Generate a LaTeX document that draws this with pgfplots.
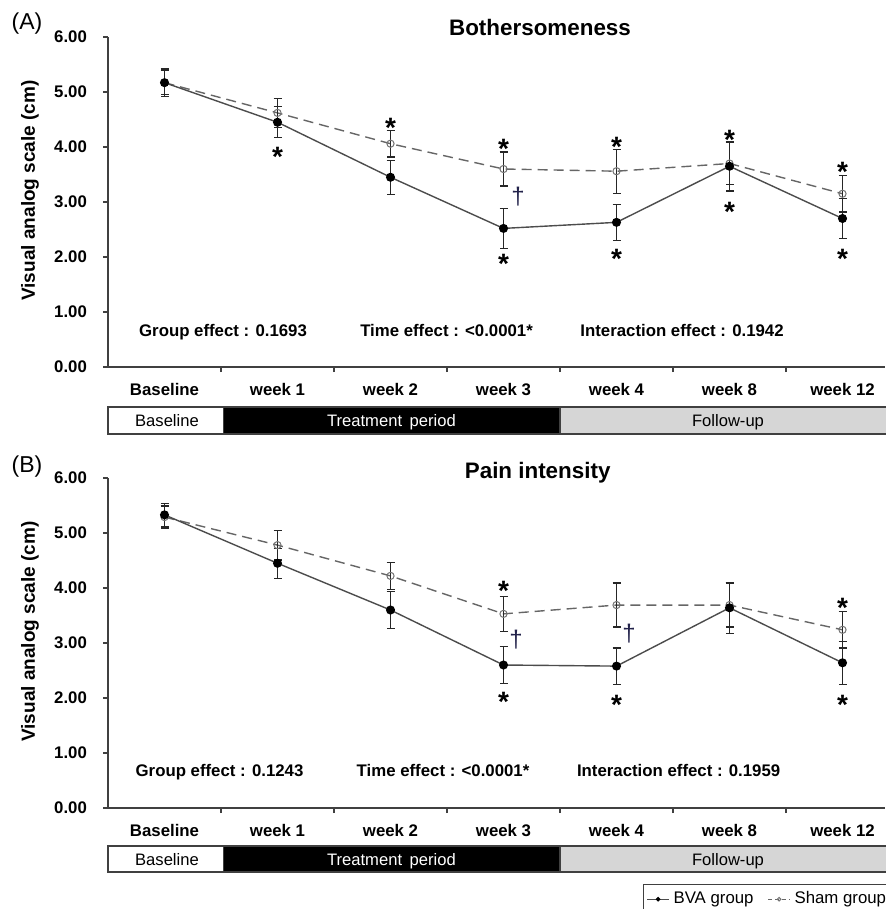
\documentclass[border=0pt]{standalone}
\usepackage{fontspec}
\setmainfont{Liberation Sans}
\usepackage{pgfplots}
\pgfplotsset{compat=1.18}
\usepackage{pgfplotstable}

\pgfplotstableread{
x bva bvae sham shame
0 5.17 0.22 5.17 0.25
1 4.45 0.28 4.62 0.26
2 3.45 0.31 4.06 0.24
3 2.52 0.36 3.60 0.31
4 2.63 0.33 3.56 0.40
5 3.65 0.45 3.70 0.38
6 2.70 0.37 3.15 0.33
}\tabA
\pgfplotstableread{
x bva bvae sham shame
0 5.33 0.21 5.29 0.20
1 4.45 0.27 4.78 0.27
2 3.60 0.34 4.22 0.25
3 2.60 0.34 3.53 0.32
4 2.58 0.33 3.69 0.40
5 3.64 0.46 3.69 0.40
6 2.64 0.39 3.24 0.33
}\tabB

\definecolor{dagcol}{HTML}{22224A}
\definecolor{fugray}{HTML}{D6D6D6}

\pgfplotsset{
  bvastyle/.style={color=black!70, line width=0.7pt, solid, mark=*, mark size=1.9pt,
    mark options={solid, fill=black, draw=black}},
  shamstyle/.style={color=black!60, line width=0.7pt, dash pattern=on 5pt off 3pt, mark=o, mark size=1.8pt,
    mark options={solid, fill=white, draw=black!55, line width=0.5pt}},
  ebars/.style={/pgfplots/error bars/y dir=both, /pgfplots/error bars/y explicit,
    /pgfplots/error bars/error bar style={solid, black!85, line width=0.6pt},
    /pgfplots/error bars/error mark options={rotate=90, black!85, mark size=2pt, line width=0.6pt}},
  vasaxis/.style={
    scale only axis, width=388.5pt, height=165pt, anchor=south west,
    xmin=-0.5, xmax=6.376, ymin=0, ymax=6,
    axis x line*=bottom, axis y line*=left,
    axis line style={black!75, line width=0.7pt},
    xtick={0,1,2,3,4,5,6},
    xticklabels={Baseline,week 1,week 2,week 3,week 4,week 8,week 12},
    minor xtick={0.5,1.5,2.5,3.5,4.5,5.5},
    major x tick style={draw=none},
    tick align=outside, major tick length=2.5pt, minor tick length=2.5pt,
    tick style={black!75, line width=0.7pt},
    ytick={0,1,2,3,4,5,6},
    /pgf/number format/assume math mode=true,
    yticklabel style={/pgf/number format/fixed, /pgf/number format/fixed zerofill,
      /pgf/number format/precision=2, xshift=-4.5pt},
    ticklabel style={font=\bfseries\fontsize{8.4}{10}\selectfont},
    xticklabel style={yshift=-2pt},
    ylabel={Visual analog scale (cm)},
    ylabel style={at={(axis description cs:-0.1004,0.535)}, anchor=center,
      font=\bfseries\fontsize{9.5}{11}\selectfont},
    title style={anchor=center, font=\bfseries\fontsize{11.2}{13}\selectfont},
    clip=false,
  },
}
\newcommand\sig[2]{\node[anchor=base, inner sep=0pt, yshift=-8pt, font=\bfseries\fontsize{14}{14}\selectfont] at (axis cs:#1,#2) {*};}
\newcommand\dg[2]{\node[anchor=base, inner sep=0pt, yshift=-3.5pt, text=dagcol, font=\fontsize{12}{12}\selectfont] at (axis cs:#1,#2) {†};}
\newcommand\eff[3]{\node[anchor=base, inner sep=0pt, yshift=-3pt, font=\bfseries\fontsize{8.4}{10}\selectfont] at (axis cs:#1,#2) {#3};}

\begin{document}
\begin{tikzpicture}
\useasboundingbox (0,0) rectangle (442.5pt,-454.5pt);

% ---------- Panel A ----------
\begin{axis}[vasaxis, at={(54pt,-183.5pt)},
  title={Bothersomeness}, title style={at={(axis description cs:0.556,0.991)}}]
\addplot[shamstyle, ebars] table[x=x, y=sham, y error=shame] {\tabA};
\addplot[bvastyle, ebars] table[x=x, y=bva, y error=bvae] {\tabA};
\eff{0.518}{0.67}{Group effect : 0.1693}
\eff{2.496}{0.67}{Time effect : <0.0001*}
\eff{4.58}{0.67}{Interaction effect : 0.1942}
\sig{1}{3.94}
\sig{2}{4.47}
\sig{3}{4.09}\sig{3}{1.99}
\sig{4}{4.12}\sig{4}{2.08}
\sig{5}{4.25}\sig{5}{2.94}
\sig{6}{3.67}\sig{6}{2.08}
\dg{3.128}{3.09}
\end{axis}

% ---------- Panel B ----------
\begin{axis}[vasaxis, at={(54pt,-404pt)},
  title={Pain intensity}, title style={at={(axis description cs:0.553,0.979)}},
  legend style={at={(axis description cs:0.6885,-0.2303)}, anchor=north west,
    draw=black!75, line width=0.6pt, legend columns=2, inner sep=1.5pt,
    font=\fontsize{8.4}{10}\selectfont,
    /tikz/every even column/.append style={column sep=5pt}},
  legend image code/.code={\draw[#1] (0pt,0pt) -- (11pt,0pt);
    \draw[#1, solid] plot[mark size=0.9pt] coordinates {(5.5pt,0pt)};},
  legend cell align=left]
\addlegendimage{bvastyle, line width=0.5pt}
\addlegendentry{BVA group}
\addlegendimage{shamstyle, dash pattern=on 2pt off 1.5pt, line width=0.5pt}
\addlegendentry{Sham group}
\addplot[shamstyle, forget plot, ebars] table[x=x, y=sham, y error=shame] {\tabB};
\addplot[bvastyle, forget plot, ebars] table[x=x, y=bva, y error=bvae] {\tabB};
\eff{0.487}{0.69}{Group effect : 0.1243}
\eff{2.465}{0.69}{Time effect : <0.0001*}
\eff{4.55}{0.69}{Interaction effect : 0.1959}
\sig{3}{4.07}\sig{3}{2.04}
\sig{4}{2.0}
\sig{6}{3.75}\sig{6}{2.0}
\dg{3.11}{3.05}
\dg{4.11}{3.15}
\end{axis}

% ---------- period bars and panel labels ----------
\begin{scope}[x=0.5pt, y=-0.5pt]
  \foreach \yt/\yb in {407/434, 846/872} {
    \filldraw[fill=white, draw=black!75, line width=0.6pt] (108,\yt) rectangle (224,\yb);
    \fill[black] (224,\yt) rectangle (560,\yb);
    \filldraw[fill=fugray, draw=black!75, line width=0.6pt] (560,\yt) rectangle (896,\yb);
    \draw[black!75, line width=0.6pt] (224,\yt) -- (560,\yt) (224,\yb) -- (560,\yb);
    \node[font=\fontsize{8.3}{10}\selectfont, anchor=base, inner sep=0pt] at (167,{(\yt+\yb)/2+6}) {Baseline};
    \node[font=\fontsize{8.3}{10}\selectfont, text=white, anchor=base, inner sep=0pt] at (391.5,{(\yt+\yb)/2+6}) {Treatment\hspace{1.5pt} period};
    \node[font=\fontsize{8.3}{10}\selectfont, anchor=base, inner sep=0pt] at (728,{(\yt+\yb)/2+6}) {Follow-up};
  }
  \node[font=\fontsize{11.5}{13}\selectfont, anchor=center] at (27,24) {(A)};
  \node[font=\fontsize{11.5}{13}\selectfont, anchor=center] at (27,467) {(B)};
\end{scope}
\end{tikzpicture}
\end{document}
